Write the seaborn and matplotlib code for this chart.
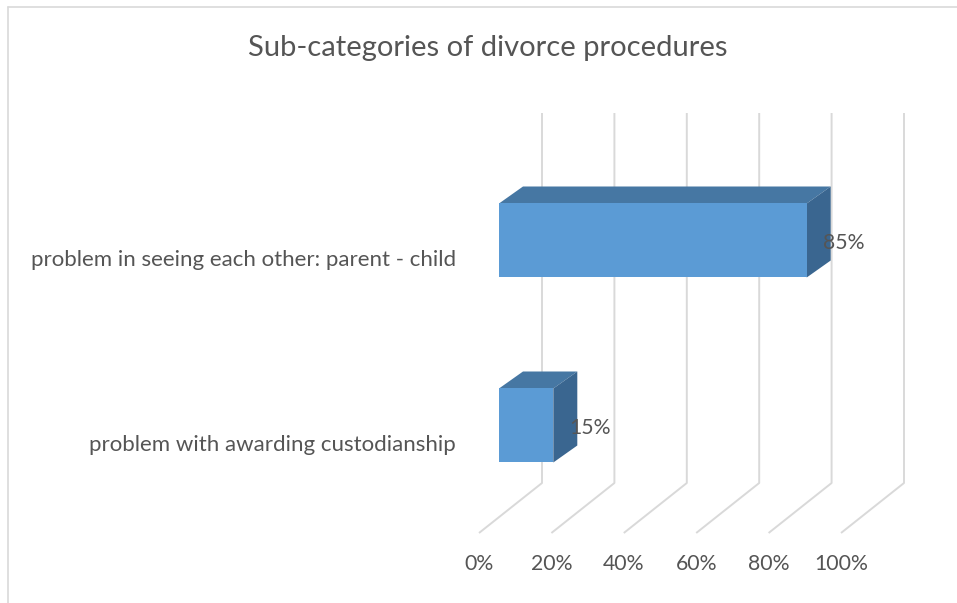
import matplotlib
matplotlib.use("Agg")
import matplotlib.pyplot as plt
import pandas as pd
import seaborn as sns
from matplotlib.lines import Line2D
from matplotlib.patches import Polygon
from matplotlib.transforms import IdentityTransform, ScaledTranslation

# ---- data -------------------------------------------------------------
categories = [
    "problem in seeing each other: parent - child",
    "problem with awarding custodianship",
]
shares = [85, 15]
tick_values = [0, 20, 40, 60, 80, 100]
tick_labels = ["0%", "20%", "40%", "60%", "80%", "100%"]
title = "Sub-categories of divorce procedures"

# ---- style ------------------------------------------------------------
W, H, DPI = 957, 603, 100
TEXT = "#555555"
GRID = "#d9d9d9"
FRONT = "#5B9BD5"
TOP = "#4677A3"
SIDE = "#3A6690"

sns.set_theme(style="white")
plt.rcParams["font.family"] = ["Lato", "DejaVu Sans"]

fig = plt.figure(figsize=(W / DPI, H / DPI), dpi=DPI)
fig.patch.set_facecolor("white")

# front plane of the 3-D box, in pixels
left_px, right_px, top_px, bot_px = 479, 841, 163, 533
ax = fig.add_axes([left_px / W, 1 - bot_px / H,
                   (right_px - left_px) / W, (bot_px - top_px) / H])

df = pd.DataFrame({"category": categories, "share": shares})
sns.barplot(data=df, x="share", y="category", orient="h", width=0.4,
            color=FRONT, saturation=1, ax=ax, zorder=3)

ax.set_xlim(0, 100)
ax.set_ylim(1.4865, -0.5135)
ax.set_facecolor("none")
ax.grid(False)
sns.despine(ax=ax, left=True, bottom=True)
ax.set_xlabel("")
ax.set_ylabel("")
ax.set_xticks(tick_values, tick_labels)
ax.tick_params(axis="x", length=0, pad=15.0, labelsize=15.3, labelcolor=TEXT)
ax.tick_params(axis="y", length=0, pad=16.6, labelsize=16, labelcolor=TEXT)

# depth offsets (pixels, y up): bar front face, bar back face, back wall
front_d = (20, 17.5)
back_d = (44, 34.5)
wall_d = (63, 50)

ident = IdentityTransform()

# floor diagonals and back-wall gridlines
y_lo, y_hi = ax.get_ylim()
for v in tick_values:
    fx, fy = ax.transData.transform((v, y_lo))
    _, ty = ax.transData.transform((v, y_hi))
    xs = [fx, fx + wall_d[0], fx + wall_d[0]]
    ys = [fy, fy + wall_d[1], ty + wall_d[1]]
    ax.add_line(Line2D(xs, ys, transform=ident, color=GRID, lw=1.4,
                       zorder=1, clip_on=False, solid_capstyle="butt"))

# extrude each bar into a box
shift = ScaledTranslation(front_d[0] / DPI, front_d[1] / DPI, fig.dpi_scale_trans)
for p in ax.patches:
    x0, y0 = p.get_x(), p.get_y()
    x1, y1 = x0 + p.get_width(), y0 + p.get_height()
    (ax0, ay0), (ax1, ay1) = ax.transData.transform([(x0, y0), (x1, y1)])
    xl, xr = min(ax0, ax1), max(ax0, ax1)
    yb, yt = min(ay0, ay1), max(ay0, ay1)
    p.set_transform(ax.transData + shift)
    p.set_edgecolor("none")
    p.set_clip_on(False)
    top = [(xl + front_d[0], yt + front_d[1]), (xr + front_d[0], yt + front_d[1]),
           (xr + back_d[0], yt + back_d[1]), (xl + back_d[0], yt + back_d[1])]
    side = [(xr + front_d[0], yt + front_d[1]), (xr + back_d[0], yt + back_d[1]),
            (xr + back_d[0], yb + back_d[1]), (xr + front_d[0], yb + front_d[1])]
    ax.add_patch(Polygon(top, closed=True, transform=ident, facecolor=TOP,
                         edgecolor="none", zorder=2.5, clip_on=False))
    ax.add_patch(Polygon(side, closed=True, transform=ident, facecolor=SIDE,
                         edgecolor="none", zorder=2.5, clip_on=False))

# value labels
for i, v in enumerate(shares):
    ax.annotate(f"{v}%", xy=(v, i), xytext=(36, 15), textcoords="offset pixels",
                ha="left", va="center", fontsize=15.2, color=TEXT, zorder=5,
                annotation_clip=False)

fig.text(488 / W, 1 - 48 / H, title, ha="center", va="center",
         fontsize=21, color=TEXT)

# chart-area frame
fig.add_artist(Line2D([8 / W, 8 / W], [0, 1 - 7 / H], transform=fig.transFigure,
                      color=GRID, lw=1.2))
fig.add_artist(Line2D([8 / W, 1], [1 - 7 / H, 1 - 7 / H], transform=fig.transFigure,
                      color=GRID, lw=1.2))

fig.savefig("out.png", dpi=DPI)
